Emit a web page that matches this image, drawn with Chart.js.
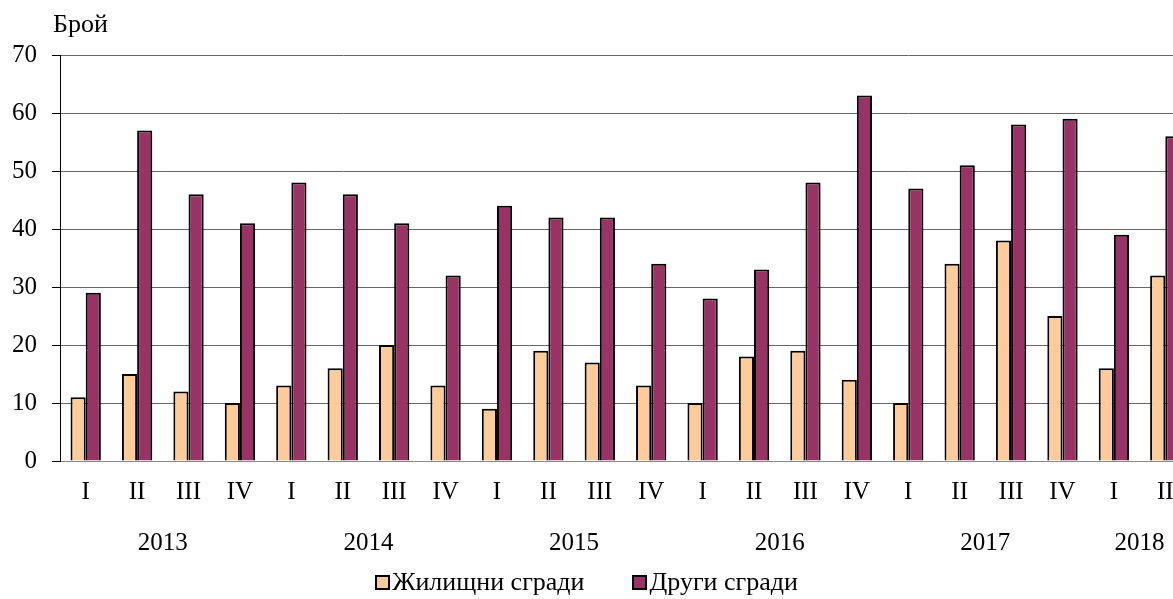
<!DOCTYPE html>
<html>
<head>
<meta charset="utf-8">
<script src="https://cdn.jsdelivr.net/npm/chart.js@4/dist/chart.umd.min.js"></script>
<style>
  body { margin: 0; overflow: hidden; background: #fff; }
  #wrap { position: relative; width: 1198px; height: 599px; margin-left: -3px; }
  #unit { position: absolute; left: 56px; top: 9px; font: 26px "Liberation Serif", serif; color: #000; line-height: 30px; }
  #legend { position: absolute; left: 3px; width: 1173px; top: 567px; height: 30px; display: flex; justify-content: center;
    align-items: center; font: 26px "Liberation Serif", serif; color: #000; line-height: 30px; }
  #legend span.item { display: flex; align-items: center; margin: 0 24px; }
  #legend span.box { display: inline-block; width: 11px; height: 11px; border: 2px solid #000; margin-right: 2px; }
</style>
</head>
<body>
<div id="wrap">
  <canvas id="bar-chart"></canvas>
  <div id="unit">Брой</div>
  <div id="legend"></div>
</div>
<script>
  const quarters = ['I', 'II', 'III', 'IV', 'I', 'II', 'III', 'IV', 'I', 'II', 'III', 'IV',
    'I', 'II', 'III', 'IV', 'I', 'II', 'III', 'IV', 'I', 'II'];
  const years = ['2013', '2014', '2015', '2016', '2017', '2018'];
  const yearPositions = [2, 6, 10, 14, 18, 21];
  const residential = [11, 15, 12, 10, 13, 16, 20, 13, 9, 19, 17, 13, 10, 18, 19, 14, 10, 34, 38, 25, 16, 32];
  const other = [29, 57, 46, 41, 48, 46, 41, 32, 44, 42, 42, 34, 28, 33, 48, 63, 47, 51, 58, 59, 39, 56];

  const font = { family: '"Liberation Serif", serif', size: 25 };

  // Легенда под графиката
  function buildLegend(chart) {
    const box = document.getElementById('legend');
    chart.data.datasets.forEach((ds) => {
      const item = document.createElement('span');
      item.className = 'item';
      const sw = document.createElement('span');
      sw.className = 'box';
      sw.style.background = ds.backgroundColor;
      item.appendChild(sw);
      item.appendChild(document.createTextNode(ds.label));
      box.appendChild(item);
    });
  }

  // Графика по тримесечия
  function createBarChart() {
    const ctx = document.getElementById('bar-chart').getContext('2d');
    const chart = new Chart(ctx, {
      type: 'bar',
      data: {
        labels: quarters,
        datasets: [
          {
            label: 'Жилищни сгради',
            backgroundColor: '#FFCC99',
            borderColor: '#000',
            borderWidth: 2,
            data: residential,
          },
          {
            label: 'Други сгради',
            backgroundColor: '#993366',
            borderColor: '#000',
            borderWidth: 2,
            data: other,
          },
        ],
      },
      options: {
        responsive: true,
        maintainAspectRatio: false,
        animation: false,
        categoryPercentage: 0.59,
        barPercentage: 1,
        layout: { padding: { left: 0, top: 55, right: 4, bottom: 36 } },
        plugins: {
          legend: { display: false },
          tooltip: { enabled: false },
        },
        scales: {
          x: {
            grid: { display: false, drawTicks: false },
            border: { color: '#888', width: 1 },
            ticks: { font: font, color: '#000', padding: 16, maxRotation: 0, autoSkip: false },
          },
          x2: {
            type: 'linear',
            position: 'bottom',
            offset: false,
            min: 0,
            max: 22,
            grid: { display: false, drawTicks: false },
            border: { display: false },
            afterBuildTicks: (axis) => {
              axis.ticks = yearPositions.map((v) => ({ value: v }));
            },
            ticks: {
              font: font,
              color: '#000',
              padding: 5,
              maxRotation: 0,
              autoSkip: false,
              callback: (v) => years[yearPositions.indexOf(v)],
            },
          },
          y: {
            min: 0,
            max: 70,
            ticks: { stepSize: 10, font: font, color: '#000', padding: 15 },
            grid: { color: '#666', tickLength: 8, tickColor: '#000' },
            border: { color: '#000', width: 1 },
          },
        },
      },
    });
    buildLegend(chart);
  }

  document.addEventListener('DOMContentLoaded', () => {
    createBarChart();
  });
</script>
</body>
</html>
